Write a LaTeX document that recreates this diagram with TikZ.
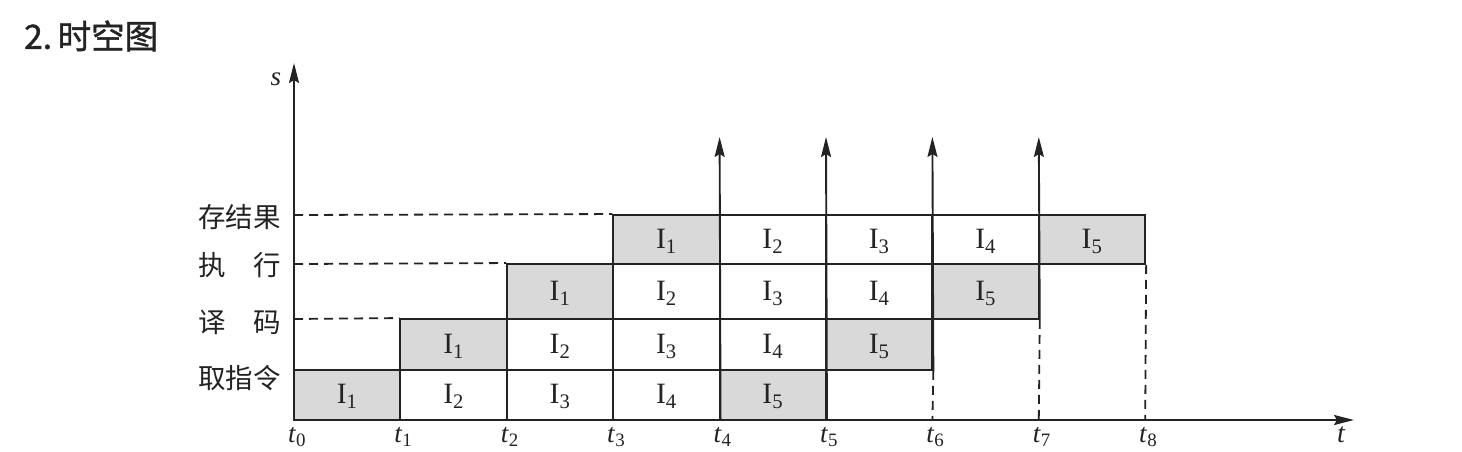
\documentclass[tikz,border=0pt]{standalone}
\usepackage{fontspec}
\setmainfont{Liberation Serif}
\newfontfamily\cjk{Noto Sans CJK SC}
\newfontfamily\titlefont[FakeBold=1.2]{Noto Sans CJK SC}
\usetikzlibrary{arrows.meta}
\definecolor{cellgray}{RGB}{217,217,217}
\definecolor{ink}{RGB}{35,35,35}
\begin{document}
\begin{tikzpicture}[x=1pt,y=-1pt,
  ln/.style={line width=1.9pt, draw=ink},
  axis/.style={ln, -{Stealth[length=20pt,width=10pt,inset=3pt]}},
  dashln/.style={line width=1.8pt, draw=ink, dash pattern=on 9pt off 6pt},
  cell/.style={ln, minimum width=106.4pt, inner sep=0pt},
  f1/.style={fill=cellgray}, f2/.style={fill=white}, f3/.style={fill=white},
  f4/.style={fill=white}, f5/.style={fill=cellgray},
  celltext/.style={inner sep=0pt, font=\fontsize{29.5}{32}\selectfont, text=ink},
  rowlab/.style={anchor=east, inner sep=0pt, font=\cjk\fontsize{27.5}{30}\selectfont, text=ink},
  tlab/.style={anchor=north, inner sep=0pt, font=\fontsize{27}{30}\selectfont, text=ink}
]
\useasboundingbox (0,0) rectangle (1462,452);
\fill[white] (0,0) rectangle (1462,452);

% title
\node[anchor=west, inner sep=0pt, font=\titlefont\fontsize{33.5}{36}\selectfont, text=ink] (title) at (24,36) {2.\,时空图};

% cells
\foreach \k/\ya/\yb in {0/420/370,1/370/319,2/319/264,3/264/215} {
  \foreach \j in {1,...,5} {
    \pgfmathsetmacro\xa{294+106.4*(\k+\j-1)}
    \node[cell, f\j, minimum height={\ya-\yb}] (c\k\j) at ({\xa+53.2},{(\ya+\yb)/2}) {};
    \node[celltext] (x\k\j) at ([yshift=-1.5pt]c\k\j.center) {I\textsubscript{\j}};
  }
}

% axes
\coordinate (O) at (294,420);
\coordinate (stop) at (294,63);
\coordinate (tend) at (1354,420);
\draw[axis] (O) -- (stop);
\draw[axis] (O) -- (tend);
\node[inner sep=0pt, font=\itshape\fontsize{27}{30}\selectfont, text=ink] (slab) at (276,79) {s};
\node[inner sep=0pt, font=\itshape\fontsize{28}{30}\selectfont, text=ink] (tlabel) at (1341,435) {t};

% vertical arrows at t4..t7
\coordinate (a4) at (719.6,137);
\coordinate (a5) at (826,137);
\coordinate (a6) at (932.4,137);
\coordinate (a7) at (1038.8,137);
\draw[axis] (c04.south east) -- (a4);
\draw[axis] (c05.south east) -- (a5);
\draw[axis] (c15.south east) -- (a6);
\draw[axis] (c25.south east) -- (a7);

% dashed verticals
\coordinate (k6) at (932.4,420);
\coordinate (k7) at (1038.8,420);
\coordinate (k8) at (1145.2,420);
\draw[dashln] (c15.south east) -- (k6);
\draw[dashln] (c25.south east) -- (k7);
\draw[dashln] (c35.south east) -- (k8);

% dashed horizontals
\coordinate (d1) at (294,319);
\coordinate (d2) at (294,264);
\coordinate (d3) at (294,215);
\draw[dashln] (d1) -- (c11.north west);
\draw[dashln] (d2) -- (c21.north west);
\draw[dashln] (d3) -- (c31.north west);

% row labels
\node[rowlab] (l3) at (281,217) {存结果};
\node[rowlab] (l2) at (281,265) {执\hspace{1em}行};
\node[rowlab] (l1) at (281,322) {译\hspace{1em}码};
\node[rowlab] (l0) at (281,378) {取指令};

% time labels
\foreach \i in {0,...,8} {
  \pgfmathsetmacro\tx{294+106.4*\i+3}
  \node[tlab] (t\i) at (\tx,427) {\textit{t}\textsubscript{\i}};
}
\end{tikzpicture}
\end{document}
